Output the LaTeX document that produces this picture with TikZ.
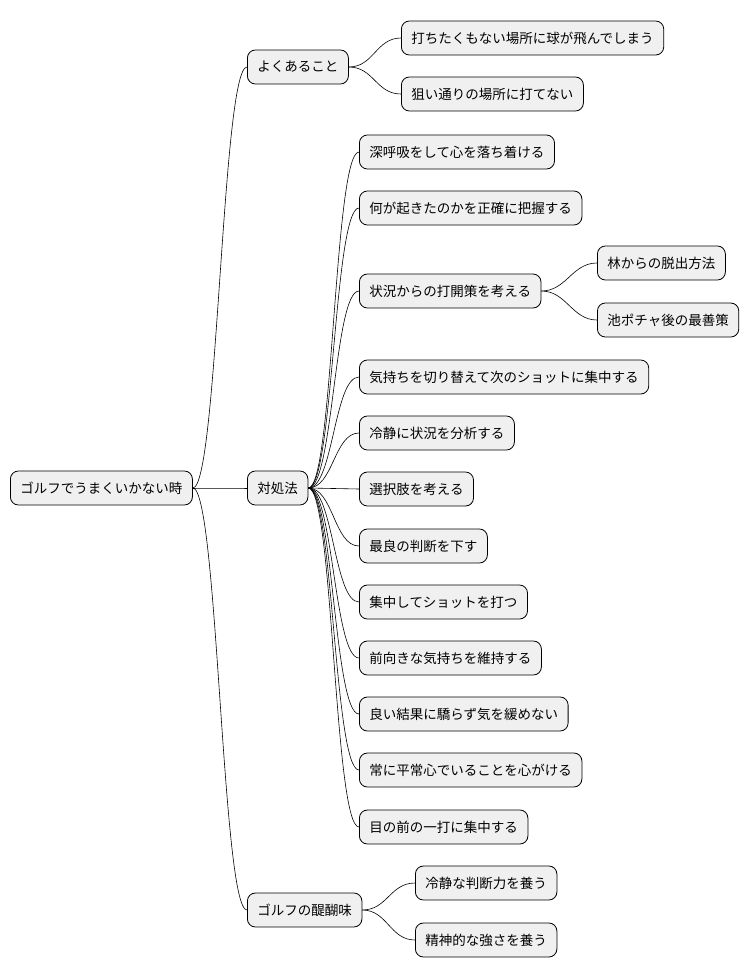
\documentclass[tikz,border=0pt]{standalone}
\usepackage{fontspec}
\setmainfont{Noto Sans CJK JP}
\begin{document}
\begin{tikzpicture}[x=1pt,y=-1pt,
  box/.style={draw=black,line width=0.8pt,fill=black!6,rounded corners=8pt,anchor=west,
    minimum height=34pt,inner xsep=10pt,font=\fontsize{13.5pt}{16pt}\selectfont},
  link/.style={line width=0.6pt}]
\useasboundingbox (0,0) rectangle (754,978);
\node[box] (r) at (10,488) {ゴルフでうまくいかない時};
\node[box] (a) at (247,67) {よくあること};
\node[box] (b) at (247,488) {対処法};
\node[box] (c) at (247,910) {ゴルフの醍醐味};
\node[box] (a1) at (401,38) {打ちたくもない場所に球が飛んでしまう};
\node[box] (a2) at (401,94) {狙い通りの場所に打てない};
\node[box] (b1) at (359,152) {深呼吸をして心を落ち着ける};
\node[box] (b2) at (359,208) {何が起きたのかを正確に把握する};
\node[box] (b3) at (359,291) {状況からの打開策を考える};
\node[box] (b4) at (359,377) {気持ちを切り替えて次のショットに集中する};
\node[box] (b5) at (359,433) {冷静に状況を分析する};
\node[box] (b6) at (359,489) {選択肢を考える};
\node[box] (b7) at (359,546) {最良の判断を下す};
\node[box] (b8) at (359,602) {集中してショットを打つ};
\node[box] (b9) at (359,658) {前向きな気持ちを維持する};
\node[box] (b10) at (359,714) {良い結果に驕らず気を緩めない};
\node[box] (b11) at (359,770) {常に平常心でいることを心がける};
\node[box] (b12) at (359,827) {目の前の一打に集中する};
\node[box] (b31) at (597,263) {林からの脱出方法};
\node[box] (b32) at (597,320) {池ポチャ後の最善策};
\node[box] (c1) at (415,883) {冷静な判断力を養う};
\node[box] (c2) at (415,940) {精神的な強さを養う};
\foreach \p/\c in {r/a,r/b,r/c,a/a1,a/a2,b/b1,b/b2,b/b3,b/b4,b/b5,b/b6,b/b7,b/b8,b/b9,b/b10,b/b11,b/b12,b3/b31,b3/b32,c/c1,c/c2}
  \draw[link] (\p.east) .. controls ([xshift=25pt]\p.east) and ([xshift=-25pt]\c.west) .. (\c.west);
\end{tikzpicture}
\end{document}
